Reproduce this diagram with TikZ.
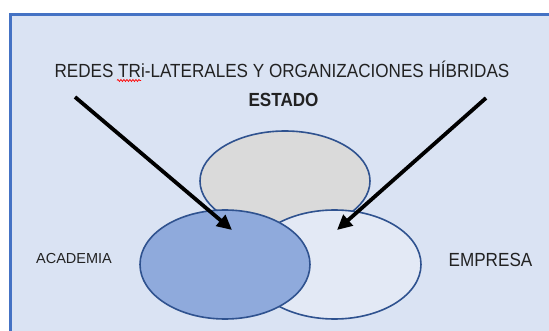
\documentclass[tikz,border=0pt]{standalone}
\usepackage{fontspec}
\setmainfont{Liberation Sans}
\newfontfamily\narrowsans{Liberation Sans}[FakeStretch=0.9]
\usepackage{tikz}
\usetikzlibrary{shapes.geometric}
\usetikzlibrary{arrows.meta}
\usetikzlibrary{decorations.pathmorphing}

\definecolor{fondo}{HTML}{DAE3F3}
\definecolor{marco}{HTML}{4472C4}
\definecolor{borde}{HTML}{2F528F}
\definecolor{azul}{HTML}{8FAADC}
\definecolor{gris}{HTML}{DADADA}
\definecolor{claro}{HTML}{E3E9F5}
\definecolor{texto}{HTML}{222222}

\tikzset{
  conjunto/.style={ellipse, draw=borde, line width=1.6pt, inner sep=0pt},
  etiqueta/.style={anchor=base, text=texto, inner sep=0pt, font=\narrowsans\fontsize{19}{19}\selectfont},
  flecha/.style={-{Triangle[length=15pt,width=14pt]}, line width=3.8pt, black},
  onda/.style={red, line width=0.7pt, decorate, decoration={snake, amplitude=1pt, segment length=3pt}}
}

\begin{document}
\begin{tikzpicture}[x=1pt, y=-1pt]
  \useasboundingbox (0,0) rectangle (549,331);
  \clip (0,0) rectangle (549,331);
  \draw[marco, line width=3pt, fill=fondo] (10,14.5) rectangle (600,400);

  \node[conjunto, fill=gris, minimum width=170pt, minimum height=100pt] (estado) at (285,181) {};
  \node[conjunto, fill=claro, minimum width=173pt, minimum height=109pt] (empresa) at (334.5,264.5) {};
  \node[conjunto, fill=azul, minimum width=170pt, minimum height=109pt] (academia) at (225,264.5) {};

  \node[etiqueta] (titulo) at (282,78) {REDES TRi-LATERALES Y ORGANIZACIONES HÍBRIDAS};
  \node[etiqueta, font=\narrowsans\bfseries\fontsize{19}{19}\selectfont] (lestado) at (283.5,107) {ESTADO};
  \node[etiqueta, font=\fontsize{14.5}{14.5}\selectfont] (lacademia) at (74,264) {ACADEMIA};
  \node[etiqueta] (lempresa) at (490.5,266) {EMPRESA};

  \coordinate (onda1) at (117,80.5);
  \coordinate (onda2) at (141,80.5);
  \draw[onda] (onda1) -- (onda2);

  \coordinate (ini1) at (75,97);
  \coordinate (fin1) at (232,230);
  \coordinate (ini2) at (486,98);
  \coordinate (fin2) at (337,230);
  \draw[flecha] (ini1) -- (fin1);
  \draw[flecha] (ini2) -- (fin2);
\end{tikzpicture}
\end{document}
